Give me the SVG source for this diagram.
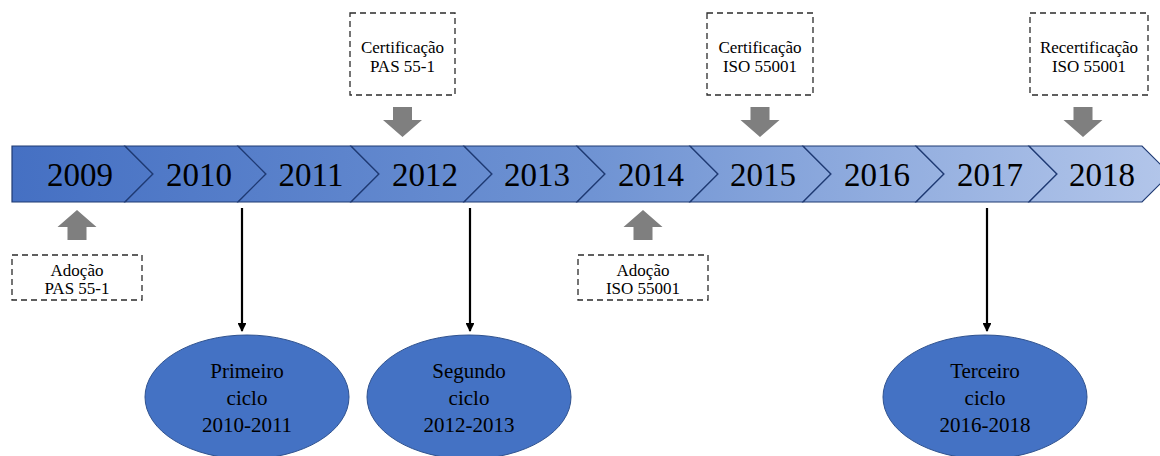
<svg xmlns="http://www.w3.org/2000/svg" width="1160" height="456" viewBox="0 0 1160 456">
  <defs>
    <linearGradient id="bandGrad" gradientUnits="userSpaceOnUse" x1="12" y1="0" x2="1170" y2="0">
      <stop offset="0" stop-color="#4570C3"/>
      <stop offset="0.5" stop-color="#6F93D3"/>
      <stop offset="1" stop-color="#B3C6EA"/>
    </linearGradient>
    <linearGradient id="bandShade" x1="0" y1="0" x2="0" y2="1">
      <stop offset="0" stop-color="#FFFFFF" stop-opacity="0.12"/>
      <stop offset="1" stop-color="#000000" stop-opacity="0.04"/>
    </linearGradient>
    <marker id="arrowHead" viewBox="0 0 10 10" refX="9" refY="5" markerWidth="4" markerHeight="4" orient="auto" markerUnits="strokeWidth">
      <path d="M0,0 L10,5 L0,10 Z" fill="#000"/>
    </marker>
    <path id="blockDown" d="M-9.5,0 H9.5 V13 H19.5 L0,30 L-19.5,13 H-9.5 Z"/>
  </defs>
  <style>
    .seg { fill: url(#bandGrad); stroke: #1F3A73; stroke-width: 1.2; }
    .year { font-family: "Liberation Serif", "Times New Roman", serif; font-size: 33px; fill: #000; text-anchor: middle; }
    .box { fill: #FFFFFF; stroke: #2B2B2B; stroke-width: 1.3; stroke-dasharray: 6 4; }
    .boxText { font-family: "Liberation Serif", "Times New Roman", serif; font-size: 17px; fill: #000; text-anchor: middle; }
    .block { fill: #7F7F7F; }
    .cycle { fill: #4472C4; stroke: #2F528F; stroke-width: 1; }
    .cycleText { font-family: "Liberation Serif", "Times New Roman", serif; font-size: 21px; fill: #000; text-anchor: middle; }
    .link { stroke: #000; stroke-width: 2.2; fill: none; }
  </style>

  <!-- timeline band: one chevron per year -->
  <g id="timeline">
    <g id="y2009"><path class="seg" d="M12,146 H125 L153,174 L125,202 H12 Z"/><text class="year" x="80" y="186">2009</text></g>
    <g id="y2010"><path class="seg" d="M125,146 H238 L266,174 L238,202 H125 L153,174 Z"/><text class="year" x="199" y="186">2010</text></g>
    <g id="y2011"><path class="seg" d="M238,146 H351 L379,174 L351,202 H238 L266,174 Z"/><text class="year" x="311" y="186">2011</text></g>
    <g id="y2012"><path class="seg" d="M351,146 H464 L492,174 L464,202 H351 L379,174 Z"/><text class="year" x="425" y="186">2012</text></g>
    <g id="y2013"><path class="seg" d="M464,146 H577 L605,174 L577,202 H464 L492,174 Z"/><text class="year" x="537" y="186">2013</text></g>
    <g id="y2014"><path class="seg" d="M577,146 H690 L718,174 L690,202 H577 L605,174 Z"/><text class="year" x="651" y="186">2014</text></g>
    <g id="y2015"><path class="seg" d="M690,146 H803 L831,174 L803,202 H690 L718,174 Z"/><text class="year" x="763" y="186">2015</text></g>
    <g id="y2016"><path class="seg" d="M803,146 H916 L944,174 L916,202 H803 L831,174 Z"/><text class="year" x="877" y="186">2016</text></g>
    <g id="y2017"><path class="seg" d="M916,146 H1029 L1057,174 L1029,202 H916 L944,174 Z"/><text class="year" x="990" y="186">2017</text></g>
    <g id="y2018"><path class="seg" d="M1029,146 H1142 L1170,174 L1142,202 H1029 L1057,174 Z"/><text class="year" x="1102" y="186">2018</text></g>
  </g>

  <!-- milestone boxes above the band -->
  <g id="certPAS">
    <rect class="box" x="350" y="13" width="105" height="82"/>
    <text class="boxText" x="402.5" y="53">Certificação</text>
    <text class="boxText" x="402.5" y="72">PAS 55-1</text>
  </g>
  <g id="certISO">
    <rect class="box" x="707" y="13" width="106" height="82"/>
    <text class="boxText" x="760" y="53">Certificação</text>
    <text class="boxText" x="760" y="72">ISO 55001</text>
  </g>
  <g id="recertISO">
    <rect class="box" x="1030" y="13" width="118" height="82"/>
    <text class="boxText" x="1089" y="53">Recertificação</text>
    <text class="boxText" x="1089" y="72">ISO 55001</text>
  </g>

  <!-- milestone boxes below the band -->
  <g id="adocaoPAS">
    <rect class="box" x="12" y="255" width="130" height="45"/>
    <text class="boxText" x="77" y="276">Adoção</text>
    <text class="boxText" x="77" y="294">PAS 55-1</text>
  </g>
  <g id="adocaoISO">
    <rect class="box" x="578" y="255" width="130" height="45"/>
    <text class="boxText" x="643" y="276">Adoção</text>
    <text class="boxText" x="643" y="294">ISO 55001</text>
  </g>

  <!-- cycle ellipses -->
  <g id="ciclo1">
    <ellipse class="cycle" cx="247" cy="397" rx="102" ry="62"/>
    <text class="cycleText" x="247" y="378">Primeiro</text>
    <text class="cycleText" x="247" y="405">ciclo</text>
    <text class="cycleText" x="247" y="432">2010-2011</text>
  </g>
  <g id="ciclo2">
    <ellipse class="cycle" cx="469" cy="397" rx="102" ry="62"/>
    <text class="cycleText" x="469" y="378">Segundo</text>
    <text class="cycleText" x="469" y="405">ciclo</text>
    <text class="cycleText" x="469" y="432">2012-2013</text>
  </g>
  <g id="ciclo3">
    <ellipse class="cycle" cx="985" cy="397" rx="102" ry="62"/>
    <text class="cycleText" x="985" y="378">Terceiro</text>
    <text class="cycleText" x="985" y="405">ciclo</text>
    <text class="cycleText" x="985" y="432">2016-2018</text>
  </g>

  <!-- connectors: block arrows and cycle pointers -->
  <g id="connectors">
    <use href="#blockDown" class="block" transform="translate(402.5,107)"/>
    <use href="#blockDown" class="block" transform="translate(760,107)"/>
    <use href="#blockDown" class="block" transform="translate(1083,107)"/>
    <use href="#blockDown" class="block" transform="translate(77,243) scale(1,-1) translate(0,3)"/>
    <use href="#blockDown" class="block" transform="translate(643,243) scale(1,-1) translate(0,3)"/>
    <line class="link" x1="242" y1="208" x2="242" y2="331" marker-end="url(#arrowHead)"/>
    <line class="link" x1="470" y1="208" x2="470" y2="331" marker-end="url(#arrowHead)"/>
    <line class="link" x1="987" y1="208" x2="987" y2="331" marker-end="url(#arrowHead)"/>
  </g>
</svg>
